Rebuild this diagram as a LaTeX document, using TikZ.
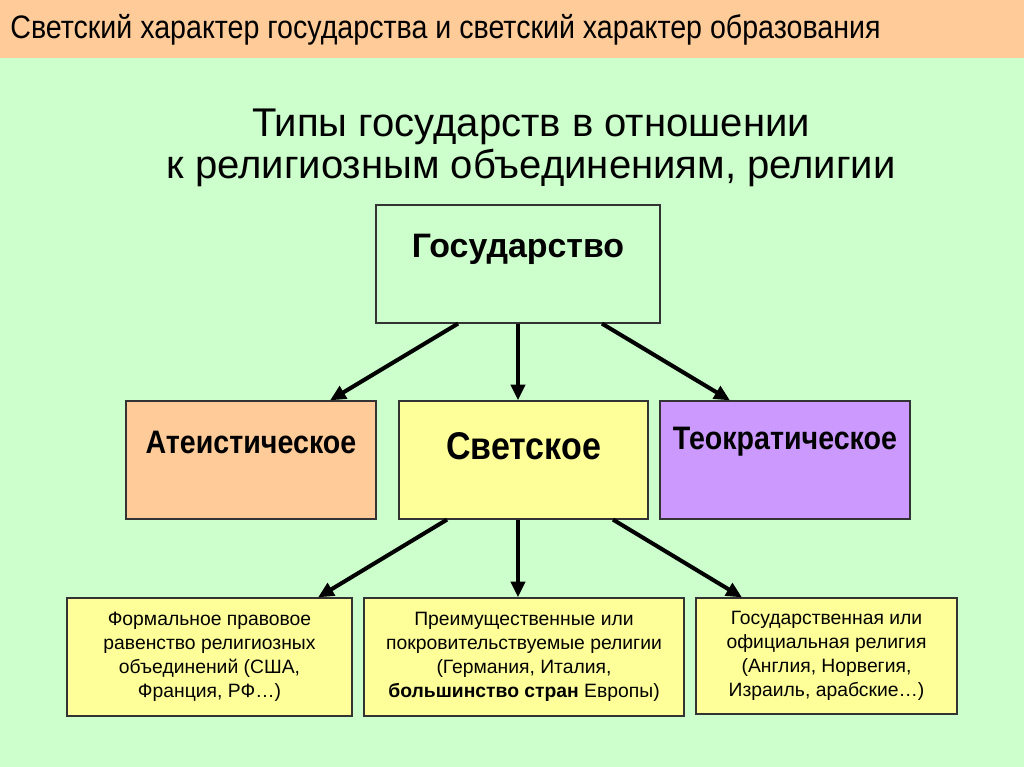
\documentclass[tikz,border=0pt]{standalone}
\usepackage{fontspec}
\setmainfont{Liberation Sans}
\newfontfamily\narrowfont[FakeStretch=0.88]{Liberation Sans}
\usetikzlibrary{arrows.meta,positioning,calc}
\definecolor{pagegreen}{HTML}{CCFFCC}
\definecolor{bandpeach}{HTML}{FFCC99}
\definecolor{boxline}{HTML}{333333}
\definecolor{ateorange}{HTML}{FFCC99}
\definecolor{svetyellow}{HTML}{FFFF99}
\definecolor{teopurple}{HTML}{CC99FF}
\tikzset{
  typebox/.style={draw=boxline,line width=0.7pt,minimum height=2.36cm,
                  inner sep=0pt},
  notebox/.style={draw=boxline,fill=svetyellow,line width=0.7pt,
                  minimum height=2.36cm,align=center,inner sep=2pt,
                  font=\fontsize{11}{13.6}\selectfont},
  typetext/.style={font=\narrowfont\bfseries\fontsize{18.5}{21}\selectfont},
  thickarr/.style={-{Triangle[length=9pt,width=8pt]},line width=2.3pt}
}
\begin{document}
\begin{tikzpicture}[x=0.02cm,y=-0.02cm]
  % background and heading band
  \fill[pagegreen] (0,0) rectangle (1024,767);
  \fill[bandpeach] (0,0) rectangle (1024,58);
  \node[anchor=west,inner sep=0pt,font=\narrowfont\fontsize{18.5}{20}\selectfont]
    (head) at (10,30) {Светский характер государства и светский характер образования};
  \node[align=center,font=\fontsize{22.8}{23.8}\selectfont] (subtitle) at (531,148)
    {Типы государств в отношении\\к религиозным объединениям, религии};

  % state
  \node[typebox,minimum width=5.68cm] (gos) at (518,264) {};
  \node[font=\bfseries\fontsize{19.3}{22}\selectfont] (gostext) at (518,249) {Государство};

  % types of state
  \node[typebox,fill=ateorange,minimum width=5.0cm] (ate) at (251,460) {};
  \node[typebox,fill=svetyellow,minimum width=4.98cm] (svet) at (523.5,460) {};
  \node[typebox,fill=teopurple,minimum width=5.0cm] (teo) at (785,460) {};
  \node[typetext] (atetext) at (251,442) {Атеистическое};
  \node[typetext,font=\narrowfont\bfseries\fontsize{22}{24}\selectfont] (svettext) at (523.5,446) {Светское};
  \node[typetext] (teotext) at (785,442) {Теократическое};

  % secular state variants
  \node[notebox,minimum width=5.7cm] (formal) at (209.5,657)
    {Формальное правовое\\равенство религиозных\\объединений (США,\\Франция, РФ…)};
  \node[notebox,minimum width=6.4cm] (prefer) at (524,657)
    {Преимущественные или\\покровительствуемые религии\\(Германия, Италия,\\\textbf{большинство стран} Европы)};
  \node[notebox,minimum width=5.22cm,minimum height=2.32cm] (official) at (826.5,656)
    {Государственная или\\официальная религия\\(Англия, Норвегия,\\Израиль, арабские…)};

  \draw[thickarr] ([xshift=-1.2cm]gos.south) -- ([xshift=1.58cm]ate.north);
  \draw[thickarr] (gos.south) -- (gos.south |- svet.north);
  \draw[thickarr] ([xshift=1.68cm]gos.south) -- ([xshift=-1.1cm]teo.north);

  \draw[thickarr] ([xshift=-1.53cm]svet.south) -- ([xshift=2.17cm]formal.north);
  \draw[thickarr] ([xshift=-0.11cm]svet.south) -- ([xshift=-0.11cm]svet.south |- prefer.north);
  \draw[thickarr] ([xshift=1.79cm]svet.south) -- ([xshift=-1.69cm]official.north);
\end{tikzpicture}
\end{document}
